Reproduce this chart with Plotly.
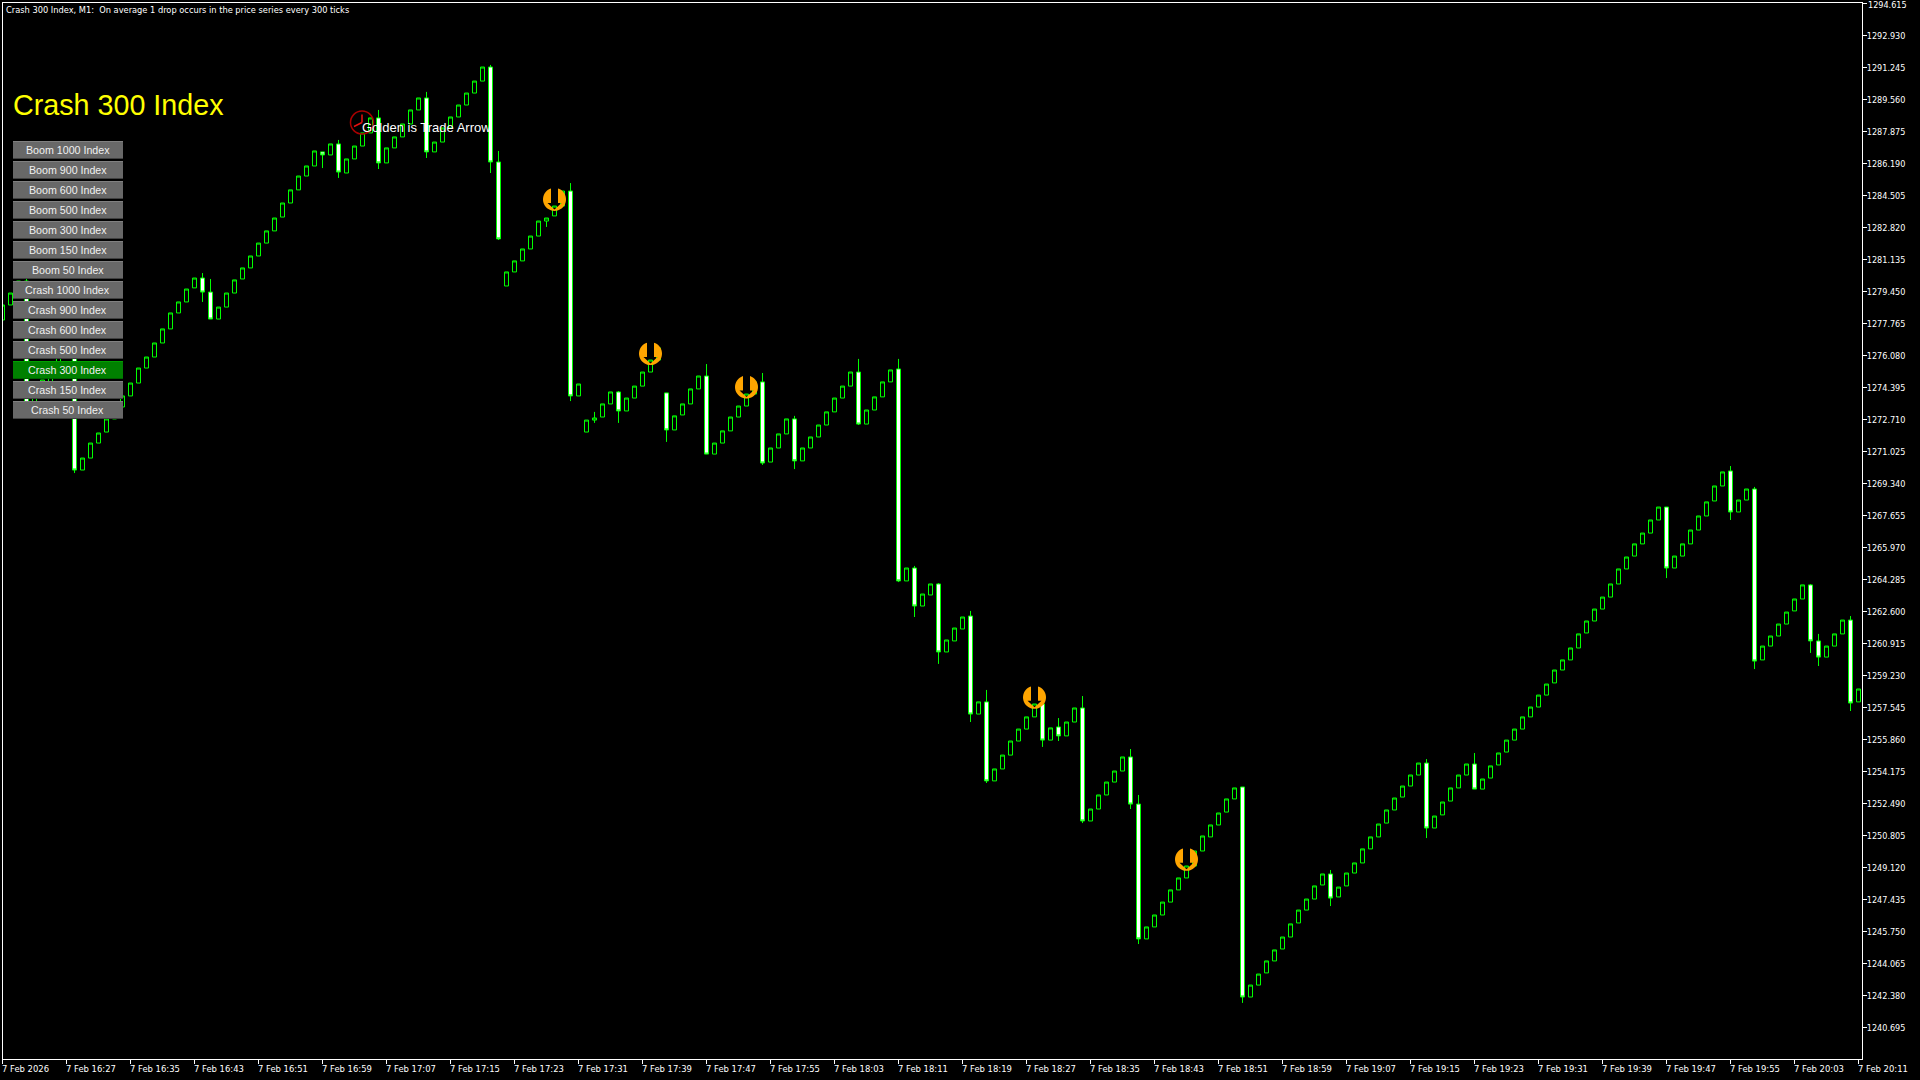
import math
import pandas as pd
import plotly.graph_objects as go

# ---- data (M1 candles, 7 Feb 2026 from 16:19) ----
opens = [
 1277.95,1278.74,1279.37,1280.00,1273.21,1274.00,1274.69,1275.42,1276.11,1276.63,
 1270.05,1270.68,1271.47,1272.05,1272.74,1273.37,1273.95,1274.63,1275.42,1276.00,
 1276.74,1277.48,1278.32,1278.90,1279.64,1280.16,1279.42,1278.00,1278.63,1279.37,
 1280.11,1280.69,1281.32,1282.00,1282.64,1283.37,1284.11,1284.80,1285.53,1286.06,
 1286.80,1286.64,1287.22,1285.69,1286.43,1287.11,1287.80,1288.59,1286.22,1287.01,
 1287.59,1288.27,1289.01,1289.64,1286.80,1287.32,1288.06,1288.64,1289.27,1289.90,
 1290.53,1291.27,1286.27,1279.74,1280.48,1281.06,1281.69,1282.37,1283.16,1283.43,
 1283.95,1284.74,1273.95,1272.05,1272.68,1272.84,1273.53,1274.16,1273.16,1273.84,
 1274.47,1275.21,1275.84,1274.11,1272.16,1272.95,1273.53,1274.32,1275.00,1270.89,
 1271.47,1272.11,1272.84,1273.42,1274.05,1274.69,1270.47,1271.21,1271.95,1272.74,
 1270.53,1271.21,1271.79,1272.42,1273.11,1273.84,1274.47,1275.21,1272.47,1273.21,
 1273.90,1274.69,1275.37,1264.21,1264.89,1262.89,1263.47,1264.05,1260.47,1261.05,
 1261.68,1262.36,1257.20,1257.84,1253.68,1254.31,1255.04,1255.78,1256.41,1257.05,
 1257.73,1255.83,1256.52,1256.05,1256.78,1257.52,1251.57,1252.20,1252.94,1253.62,
 1254.20,1254.94,1252.46,1245.36,1245.99,1246.62,1247.30,1247.94,1248.57,1249.20,
 1249.99,1250.73,1251.36,1252.04,1252.73,1253.36,1242.30,1242.93,1243.57,1244.20,
 1244.83,1245.46,1246.20,1246.88,1247.46,1248.20,1248.78,1247.57,1248.15,1248.83,
 1249.36,1250.10,1250.73,1251.46,1252.15,1252.83,1253.41,1253.99,1254.62,1251.20,
 1251.89,1252.62,1253.31,1253.99,1254.57,1253.25,1253.83,1254.52,1255.20,1255.83,
 1256.41,1257.05,1257.57,1258.20,1258.84,1259.52,1260.05,1260.68,1261.47,1262.10,
 1262.73,1263.36,1264.05,1264.84,1265.52,1266.16,1266.73,1267.42,1268.10,1264.89,
 1265.52,1266.16,1266.89,1267.63,1268.42,1269.21,1270.00,1267.84,1268.47,1269.05,
 1260.05,1260.78,1261.31,1261.94,1262.63,1263.26,1264.00,1261.05,1260.20,1260.78,
 1261.42,1262.15,1257.84,
]
closes = [
 1278.74,1279.37,1280.00,1273.21,1274.00,1274.79,1275.42,1276.11,1276.63,1270.05,
 1270.68,1271.47,1272.00,1272.74,1273.21,1273.95,1274.63,1275.42,1276.00,1276.74,
 1277.48,1278.32,1278.90,1279.58,1280.16,1279.42,1278.00,1278.63,1279.37,1280.06,
 1280.69,1281.32,1282.00,1282.64,1283.32,1284.11,1284.80,1285.53,1286.06,1286.85,
 1286.64,1287.22,1285.74,1286.43,1287.11,1287.80,1288.59,1286.22,1287.01,1287.59,
 1288.27,1289.01,1289.64,1286.80,1287.32,1288.06,1288.64,1289.27,1289.90,1290.53,
 1291.27,1286.27,1282.22,1280.48,1281.06,1281.69,1282.37,1283.16,1283.32,1283.95,
 1284.74,1273.95,1274.58,1272.68,1272.79,1273.53,1274.16,1273.16,1273.84,1274.47,
 1275.21,1275.84,1276.48,1272.16,1272.90,1273.53,1274.32,1275.00,1270.89,1271.47,
 1272.11,1272.84,1273.42,1274.05,1274.69,1270.42,1271.21,1271.95,1272.74,1270.53,
 1271.21,1271.79,1272.42,1273.11,1273.84,1274.47,1275.21,1272.47,1273.21,1273.90,
 1274.69,1275.32,1264.21,1264.89,1262.89,1263.52,1264.05,1260.47,1261.10,1261.73,
 1262.31,1257.20,1257.84,1253.68,1254.31,1255.04,1255.78,1256.41,1257.05,1257.73,
 1255.83,1256.47,1256.05,1256.78,1257.52,1251.57,1252.20,1252.94,1253.62,1254.20,
 1254.94,1252.46,1245.36,1245.99,1246.62,1247.30,1247.94,1248.57,1249.20,1249.99,
 1250.78,1251.36,1251.99,1252.73,1253.31,1242.30,1242.93,1243.51,1244.20,1244.78,
 1245.46,1246.15,1246.88,1247.46,1248.15,1248.78,1247.51,1248.09,1248.83,1249.36,
 1250.10,1250.73,1251.41,1252.15,1252.78,1253.41,1253.99,1254.62,1251.20,1251.83,
 1252.57,1253.31,1253.99,1254.57,1253.25,1253.78,1254.47,1255.15,1255.83,1256.41,
 1257.05,1257.57,1258.20,1258.78,1259.52,1260.05,1260.68,1261.42,1262.10,1262.73,
 1263.36,1264.05,1264.84,1265.47,1266.16,1266.73,1267.42,1268.10,1264.89,1265.52,
 1266.16,1266.89,1267.63,1268.37,1269.21,1269.95,1267.84,1268.47,1269.05,1259.99,
 1260.78,1261.31,1261.94,1262.57,1263.26,1264.00,1261.05,1260.20,1260.78,1261.42,
 1262.15,1257.78,1258.52,
]
wick_highs = {
 3:1280.11,25:1280.42,26:1280.11,42:1287.43,47:1289.01,53:1289.96,61:1291.38,62:1286.85,
 71:1285.16,74:1273.11,77:1274.21,88:1275.63,95:1275.16,99:1272.90,107:1275.90,112:1275.90,
 114:1265.00,117:1264.10,121:1262.63,123:1258.47,132:1256.99,135:1258.15,141:1255.36,
 142:1252.94,166:1248.99,178:1254.83,184:1255.15,216:1270.26,219:1269.16,226:1264.05,
 227:1261.42,231:1262.36,
}
wick_lows = {
 9:1269.89,25:1278.90,40:1285.95,42:1285.43,47:1285.90,53:1286.48,61:1285.69,62:1282.16,
 68:1282.85,71:1273.68,74:1272.53,77:1272.53,83:1271.53,95:1270.32,99:1270.10,107:1272.42,
 112:1264.15,114:1262.31,117:1259.84,121:1256.78,123:1253.57,130:1255.47,132:1255.78,
 135:1251.46,141:1252.20,142:1245.09,155:1241.99,166:1247.09,178:1250.67,208:1264.36,
 216:1267.42,219:1259.57,226:1260.42,227:1259.73,231:1257.36,
}
price_ticks = [1294.615,1292.930,1291.245,1289.560,1287.875,1286.190,1284.505,1282.820,
 1281.135,1279.450,1277.765,1276.080,1274.395,1272.710,1271.025,1269.340,1267.655,1265.970,
 1264.285,1262.600,1260.915,1259.230,1257.545,1255.860,1254.175,1252.490,1250.805,1249.120,
 1247.435,1245.750,1244.065,1242.380,1240.695]
time_tick_labels = ["7 Feb 2026","7 Feb 16:27","7 Feb 16:35","7 Feb 16:43","7 Feb 16:51",
 "7 Feb 16:59","7 Feb 17:07","7 Feb 17:15","7 Feb 17:23","7 Feb 17:31","7 Feb 17:39",
 "7 Feb 17:47","7 Feb 17:55","7 Feb 18:03","7 Feb 18:11","7 Feb 18:19","7 Feb 18:27",
 "7 Feb 18:35","7 Feb 18:43","7 Feb 18:51","7 Feb 18:59","7 Feb 19:07","7 Feb 19:15",
 "7 Feb 19:23","7 Feb 19:31","7 Feb 19:39","7 Feb 19:47","7 Feb 19:55","7 Feb 20:03",
 "7 Feb 20:11"]
time_ticks = ["2026-02-07 %02d:%02d" % ((16*60+19+8*i)//60, (16*60+19+8*i)%60) for i in range(30)]
arrow_times = ["2026-02-07 17:28","2026-02-07 17:40","2026-02-07 17:52","2026-02-07 18:28","2026-02-07 18:47"]
arrow_prices = [1284.30,1276.18,1274.42,1258.08,1249.55]
button_labels = ["Boom 1000 Index","Boom 900 Index","Boom 600 Index","Boom 500 Index","Boom 300 Index",
 "Boom 150 Index","Boom 50 Index","Crash 1000 Index","Crash 900 Index","Crash 600 Index",
 "Crash 500 Index","Crash 300 Index","Crash 150 Index","Crash 50 Index"]
active_button = "Crash 300 Index"
header_text = "Crash 300 Index, M1:  On average 1 drop occurs in the price series every 300 ticks"
title_text = "Crash 300 Index"
note_text = "Golden is Trade Arrow"

times = pd.date_range("2026-02-07 16:19", periods=len(opens), freq="min")
highs = [wick_highs.get(i, max(o, c)) for i, (o, c) in enumerate(zip(opens, closes))]
lows = [wick_lows.get(i, min(o, c)) for i, (o, c) in enumerate(zip(opens, closes))]

# ---- plot frame in page pixels ----
W, H = 1920, 1080
L, R, T, B = 3, 1862, 3, 1059
def px(x): return (x - L) / (R - L)
def py(y): return 1 - (y - T) / (B - T)

GREEN = "#00FF00"
COND = "DejaVu Sans Condensed, DejaVu Sans, sans-serif"
ARIAL = "Liberation Sans, Arial, sans-serif"

fig = go.Figure(go.Candlestick(
    x=times, open=opens, high=highs, low=lows, close=closes, whiskerwidth=0,
    increasing=dict(line=dict(color=GREEN, width=1), fillcolor="#000000"),
    decreasing=dict(line=dict(color=GREEN, width=1), fillcolor="#FFFFFF"),
    hoverinfo="skip", showlegend=False))

# outline of the arrow icon: an orange disc whose arrow cut-out is see-through
RAD, SH, HW, HT, TIP = 11.5, 3.5, 7.0, -3.5, -10.0
a0 = math.asin(SH / RAD)
pts = []
for j in range(41):
    a = a0 + (2 * math.pi - 2 * a0) * j / 40      # clockwise from top, angle measured from +y
    pts.append((RAD * math.sin(a), RAD * math.cos(a)))
pts += [(-SH, HT), (-HW, HT), (0, TIP), (HW, HT), (SH, HT)]
arrow_path = "M" + " L".join("%.2f,%.2f" % p for p in pts) + " Z"

shapes = []
for t, p in zip(arrow_times, arrow_prices):
    shapes.append(dict(type="path", layer="above", xref="x", yref="y", xsizemode="pixel",
                       ysizemode="pixel", xanchor=t, yanchor=p, path=arrow_path,
                       fillcolor="#FFA500", line=dict(width=0)))
# clock icon
cx, cy, r = 362, 122.5, 11.5
shapes.append(dict(type="circle", xref="paper", yref="paper", x0=px(cx-r), x1=px(cx+r), y0=py(cy+r), y1=py(cy-r),
                   line=dict(color="#A80000", width=1.5), fillcolor="rgba(0,0,0,0)", layer="above"))
for (x1, y1) in [(cx, cy-8), (cx-8, cy+4)]:
    shapes.append(dict(type="line", xref="paper", yref="paper", x0=px(cx), y0=py(cy), x1=px(x1), y1=py(y1),
                       line=dict(color="#E81010", width=1.5), layer="above"))
# first time tick sits just left of the clipped first candle
shapes.append(dict(type="line", xref="paper", yref="paper", x0=px(2.5), x1=px(2.5), y0=py(1059), y1=py(1064),
                   line=dict(color="#FFFFFF", width=1), layer="above"))

annotations = [
    dict(text=header_text, xref="paper", yref="paper", x=px(4), y=py(9.5), xanchor="left", yanchor="middle",
         showarrow=False, font=dict(family=COND, size=9.2, color="#FFFFFF")),
    dict(text=title_text, xref="paper", yref="paper", x=px(10.5), y=py(105), xanchor="left", yanchor="middle",
         showarrow=False, font=dict(family=ARIAL, size=28.7, color="#FFFF00")),
    dict(text=note_text, xref="paper", yref="paper", x=px(360), y=py(127.5), xanchor="left", yanchor="middle",
         showarrow=False, font=dict(family=ARIAL, size=13, color="#FFFFFF")),
    # top price label, at the very edge of the frame
    dict(text="%.3f" % price_ticks[0], xref="paper", yref="y", x=px(1866), y=price_ticks[0], xanchor="left", yanchor="middle",
         yshift=-2, showarrow=False, font=dict(family=COND, size=9, color="#FFFFFF")),
]
# panel buttons
for i, label in enumerate(button_labels):
    top = 141 + 20 * i
    active = label == active_button
    face, light, dark = ("#008000", "#00A000", "#006000") if active else ("#686868", "#808080", "#404040")
    shapes.append(dict(type="rect", layer="above", xref="paper", yref="paper", x0=px(13), x1=px(123),
                       y0=py(top+18), y1=py(top), fillcolor=face, line=dict(width=0)))
    shapes.append(dict(type="rect", layer="above", xref="paper", yref="paper", x0=px(13), x1=px(123),
                       y0=py(top+1), y1=py(top), fillcolor=light, line=dict(width=0)))
    shapes.append(dict(type="rect", layer="above", xref="paper", yref="paper", x0=px(13), x1=px(123),
                       y0=py(top+18), y1=py(top+17), fillcolor=dark, line=dict(width=0)))
    annotations.append(dict(text=label, xref="paper", yref="paper", x=px(67.7), y=py(top+9),
                            xanchor="center", yanchor="middle", showarrow=False,
                            font=dict(family=ARIAL, size=10.67, color="#F0F0F0")))
# time labels start at their tick, as in the terminal
for i, (t, label) in enumerate(zip(time_ticks, time_tick_labels)):
    if i == 0:
        annotations.append(dict(text=label, xref="paper", yref="paper", x=px(2.5), y=py(1068.7), xanchor="left",
                                yanchor="middle", xshift=-3, showarrow=False,
                                font=dict(family=COND, size=9.4, color="#FFFFFF")))
    else:
        annotations.append(dict(text=label, xref="x", yref="paper", x=t, y=py(1068.7), xanchor="left", yanchor="middle",
                                xshift=-3, showarrow=False, font=dict(family=COND, size=9.4, color="#FFFFFF")))

fig.update_layout(
    width=W, height=H, paper_bgcolor="#000000", plot_bgcolor="#000000",
    margin=dict(l=L, r=W-R, t=T, b=H-B, autoexpand=False),
    boxgap=0.5, boxgroupgap=0, boxmode="overlay", showlegend=False, shapes=shapes, annotations=annotations,
    xaxis=dict(type="date", range=["2026-02-07 16:19:03.75", "2026-02-07 20:11:26.25"], rangeslider=dict(visible=False),
               tickmode="array", tickvals=time_ticks, showticklabels=False, ticks="outside", ticklen=4,
               tickcolor="#FFFFFF", tickwidth=1, showline=True, linecolor="#FFFFFF", linewidth=1, mirror=True,
               showgrid=False, zeroline=False),
    yaxis=dict(side="right", range=[1239.037, 1294.641], tickmode="array", tickvals=price_ticks,
               ticktext=["%.3f" % v for v in price_ticks], ticks="outside", ticklen=4, tickcolor="#FFFFFF", tickwidth=1,
               ticklabelstandoff=-2, tickfont=dict(family=COND, size=9, color="#FFFFFF"), showline=True, linecolor="#FFFFFF",
               linewidth=1, mirror=True, showgrid=False, zeroline=False),
)
fig.write_html("out.html", post_script="document.body.style.margin='0';document.body.style.overflow='hidden';document.body.style.background='#000';",
               config=dict(displayModeBar=False))
